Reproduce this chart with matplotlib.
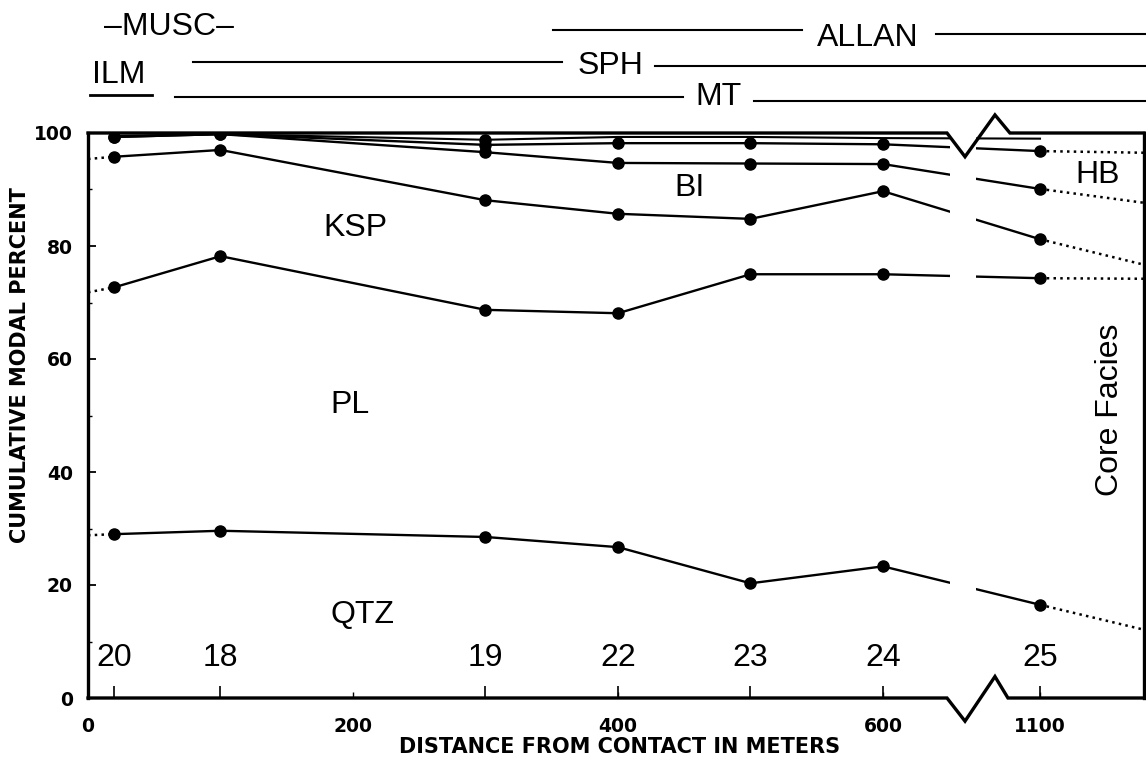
import numpy as np
import matplotlib.pyplot as plt

plt.rcParams['font.family'] = ['Liberation Sans', 'DejaVu Sans']

# distance from contact (m) and sample numbers
dist = np.array([20, 100, 300, 400, 500, 600, 1100])
samples = ['20', '18', '19', '22', '23', '24', '25']

# cumulative modal percent (top of each band)
qtz = [29.0, 29.6, 28.5, 26.7, 20.3, 23.3, 16.5]
pl = [72.7, 78.2, 68.7, 68.1, 75.0, 75.0, 74.3]
ksp = [95.8, 97.0, 88.1, 85.7, 84.8, 89.7, 81.2]
bi = [99.3, 99.8, 96.6, 94.7, 94.6, 94.5, 90.1]
hb = [99.3, 99.8, 97.9, 98.2, 98.2, 98.0, 96.8]
acc = [99.5, 99.8, 98.8, 99.3, 99.3, 99.1, 99.0]

# dotted trends: toward the contact and toward the core facies
left_trend = [28.8, 71.8, 95.4]      # qtz, pl, ksp at 0 m
right_trend = [12.0, 74.2, 76.6, 87.6, 96.5]  # qtz, pl, ksp, bi, hb at edge

xticks_m = [0, 200, 400, 600, 1100]
right_edge_m = 1180


def xpos(d):
    # broken axis: everything past the break is pulled left
    d = np.asarray(d, dtype=float)
    return np.where(d > 650, d - 381.5, d)


fig = plt.figure(figsize=(11.46, 7.72), dpi=100)
ax = fig.add_axes([88/1146, 1-698/772, 1058/1146, 565/772])
ax.set_xlim(0, float(xpos(right_edge_m)))
ax.set_ylim(0, 100)
for s in ax.spines.values():
    s.set_visible(False)
ax.spines['left'].set_visible(True)
ax.spines['left'].set_linewidth(2.4)

xp = xpos(dist)
series = [qtz, pl, ksp, bi, hb]
for ys in series:
    ax.plot(xp, ys, color='black', lw=1.7, marker='o', ms=8, zorder=2)
ax.plot(xp, acc, color='black', lw=1.5, marker='o', ms=8, markevery=[2], zorder=2)

dots = dict(color='black', lw=1.8, dashes=(1, 1.7), zorder=2)
for ys, y0 in zip(series[:3], left_trend):
    ax.plot([0, xp[0]], [y0, ys[0]], **dots)
xr = float(xpos(right_edge_m))
for ys, y1 in zip(series, right_trend):
    ax.plot([xp[-1], xr], [ys[-1], y1], **dots)

# gap in the lines at the axis break
ax.axvspan(650.6, 670.2, color='white', zorder=3, lw=0)

# frame with break symbols
fr = dict(color='black', lw=2.4, zorder=4, clip_on=False, solid_joinstyle='miter')
ax.plot([0, 648.3, 661.9, 684.5, 694.3, xr - 1.5],
        [0, 0, -4.1, 3.8, 0, 0], **fr)
ax.plot([0, 648.3, 661.9, 684.5, 695.8, xr - 1.5],
        [100, 100, 95.8, 103.2, 100, 100], **fr)
ax.plot([xr - 1.5, xr - 1.5], [0, 100], **fr)

# ticks
lab = dict(family='DejaVu Sans', weight='bold', size=13.5)
ax.set_yticks(np.arange(0, 101, 20))
ax.set_yticks(np.arange(10, 100, 20), minor=True)
ax.set_yticklabels([str(v) for v in range(0, 101, 20)], **lab)
ax.tick_params(axis='y', which='major', direction='in', length=6, width=1.3, pad=11)
ax.tick_params(axis='y', which='minor', direction='in', length=3, width=1.0)
ax.set_xticks(xpos(xticks_m))
ax.set_xticklabels([str(v) for v in xticks_m], **lab)
ax.set_xticks([], minor=True)
ax.tick_params(axis='x', which='major', direction='in', length=4, width=1.0, pad=14)
ax.vlines(xp, 0, 2.2, color='black', lw=1.2, zorder=2)

# sample numbers
for x, s in zip(xp, samples):
    ax.text(x, 7.1, s, ha='center', va='center', fontsize=23)

big = dict(ha='center', va='center', fontsize=23)
ax.text(207, 14.7, 'QTZ', **big)
ax.text(198, 51.9, 'PL', **big)
ax.text(201.5, 83.2, 'KSP', **big)
ax.text(454, 90.3, 'BI', **big)
ax.text(762, 92.6, 'HB', **big)
ax.text(771, 51, 'Core Facies', rotation=90, **big)

ax.text(-51, 59, 'CUMULATIVE MODAL PERCENT', rotation=90, ha='center',
        va='center', family='DejaVu Sans', fontsize=15, fontweight='bold')
ax.text(401.5, -8.7, 'DISTANCE FROM CONTACT IN METERS', ha='center',
        va='center', family='DejaVu Sans', fontsize=15, fontweight='bold')

# accessory mineral ranges above the plot
ln = dict(color='black', lw=1.5, clip_on=False)
ax.text(61, 118.8, '\u2013MUSC\u2013', clip_on=False, **big)
ax.text(23.4, 110.3, 'ILM', clip_on=False, **big)
ax.plot([1.5, 48.3], [106.7, 106.7], color='black', lw=2.0, clip_on=False)
ax.plot([351, 539], [118.2, 118.2], **ln)
ax.text(588.7, 116.8, 'ALLAN', clip_on=False, **big)
ax.plot([640, xr], [117.5, 117.5], **ln)
ax.plot([79, 358], [112.6, 112.6], **ln)
ax.text(394, 111.9, 'SPH', clip_on=False, **big)
ax.plot([428, xr], [111.9, 111.9], **ln)
ax.plot([66, 449], [106.4, 106.4], **ln)
ax.text(475.5, 106.4, 'MT', clip_on=False, **big)
ax.plot([503, xr], [105.7, 105.7], **ln)

fig.savefig('out.png', dpi=100)
